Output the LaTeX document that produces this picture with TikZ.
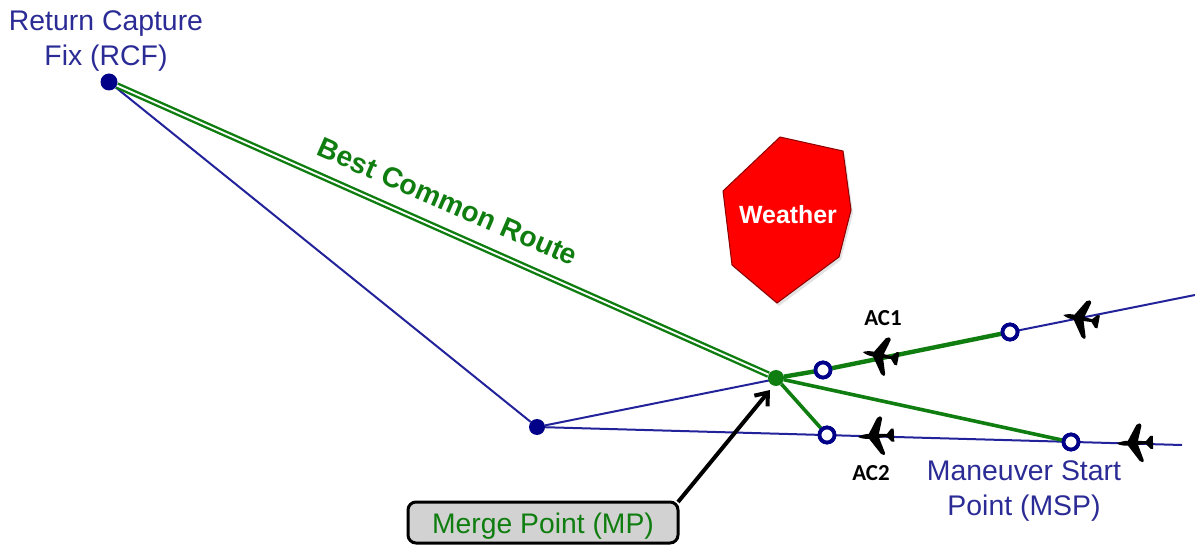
\documentclass[tikz,border=0pt]{standalone}
\usepackage{fontspec}
\setmainfont{Liberation Sans}
\newfontfamily\acfont{Carlito}
\usetikzlibrary{arrows.meta,shadows}
\definecolor{navyline}{HTML}{22229A}
\definecolor{navydot}{HTML}{000088}
\definecolor{navytext}{HTML}{2B2B96}
\definecolor{routegreen}{HTML}{0F7D0F}
\definecolor{boxgray}{HTML}{D2D2D2}
\tikzset{
  x=1bp,y=-1bp,
  routeline/.style={draw=navyline,line width=2bp},
  greenline/.style={draw=routegreen,line width=3.6bp},
  solidpt/.style={circle,fill=navydot,inner sep=0,minimum size=17bp},
  openpt/.style={circle,draw=navydot,fill=white,line width=3.8bp,inner sep=0,minimum size=15bp},
  bluelabel/.style={text=navytext,align=center,font=\fontsize{28.5}{35}\selectfont},
  aclabel/.style={font=\acfont\bfseries\fontsize{23}{26}\selectfont,text=black},
  plane/.pic={
    \fill[black] (-18,0) .. controls (-15,-2) and (-10,-2.5) .. (-7,-2.5)
      -- (2,-18) .. controls (3,-20) and (7,-20) .. (7,-17) -- (3,-2) -- (11,-1.5)
      -- (15.5,-6.5) -- (18,-6.5) -- (18,6.5) -- (15.5,6.5) -- (11,1.5)
      -- (3,2) -- (8,17) .. controls (9,20) and (5,20) .. (4,18) -- (-7,2.5)
      .. controls (-10,2.5) and (-15,2) .. (-18,0) -- cycle;
  }
}
\begin{document}
\begin{tikzpicture}
\useasboundingbox (0,0) rectangle (1195,545);
% points
\node[solidpt] (rcf) at (109,82) {};
\node[solidpt,minimum size=16bp] (turn) at (537,427) {};
\coordinate (mpc) at (776,378);
\coordinate (eastA) at (1195,295);
\coordinate (eastB) at (1182,445);
\coordinate (mptip) at (770,390);
% blue routes
\draw[routeline] (rcf) -- (turn);
\draw[routeline] (turn) -- (eastA);
\draw[routeline] (turn) -- (eastB);
% open points
\node[openpt] (a1) at (823,370) {};
\node[openpt] (a2) at (1010,332) {};
\node[openpt] (b1) at (827,435) {};
\node[openpt] (msp) at (1071,442) {};
\node[circle,fill=routegreen,inner sep=0,minimum size=16bp] (mp) at (mpc) {};
% green routes
\draw[draw=routegreen,line width=2.4bp,double=white,double distance=1.8bp] (rcf) -- (mp);
\draw[greenline,line width=4.4bp] (mp) -- (a1);
\draw[greenline,line width=4.4bp] (a1) -- (a2);
\draw[greenline] (mp) -- (msp);
\draw[greenline] (mp) -- (b1);
\node[openpt] at (a1) {};
\node[openpt] at (a2) {};
\node[openpt] at (b1) {};
\node[openpt] at (msp) {};
% planes
\pic[rotate=-11] at (1081,318.5) {plane};
\pic[rotate=-11] at (880.5,355.5) {plane};
\pic[rotate=3] at (876,436) {plane};
\pic[rotate=2] at (1135,443) {plane};
% weather
\fill[black!25,opacity=.45] (782,140) -- (845,154) -- (853,213) -- (841,260) -- (779,306) -- (734,268) -- (725,194) -- cycle;
\draw[draw=red!55!black,line width=1bp,fill=red] (780,137) -- (843,151) -- (851,210) -- (839,257) -- (777,303) -- (732,265) -- (723,191) -- cycle;
\node[text=white,font=\bfseries\fontsize{25}{28}\selectfont] (wx) at (788,214.5) {Weather};
% labels
\node[bluelabel] (rcflabel) at (106,41) {Return Capture\\Fix (RCF)};
\node[bluelabel] (msplabel) at (1024,491) {Maneuver Start\\Point (MSP)};
\node[text=routegreen,font=\bfseries\fontsize{28.4}{30}\selectfont,rotate=-23.5] (bcr) at (448,201.5) {Best Common Route};
\node[aclabel] (ac1) at (883,318) {AC1};
\node[aclabel] (ac2) at (871,473) {AC2};
% merge box
\draw[black,line width=3bp,fill=boxgray,rounded corners=8bp] (408,502) rectangle (678,543);
\node[text=routegreen,font=\fontsize{28.4}{30}\selectfont] (mplabel) at (543,526) {Merge Point (MP)};
\coordinate (boxcorner) at (678,502);
\draw[black,line width=4bp,-{Straight Barb[length=11bp,width=17bp]}] (boxcorner) -- (mptip);
\end{tikzpicture}
\end{document}
